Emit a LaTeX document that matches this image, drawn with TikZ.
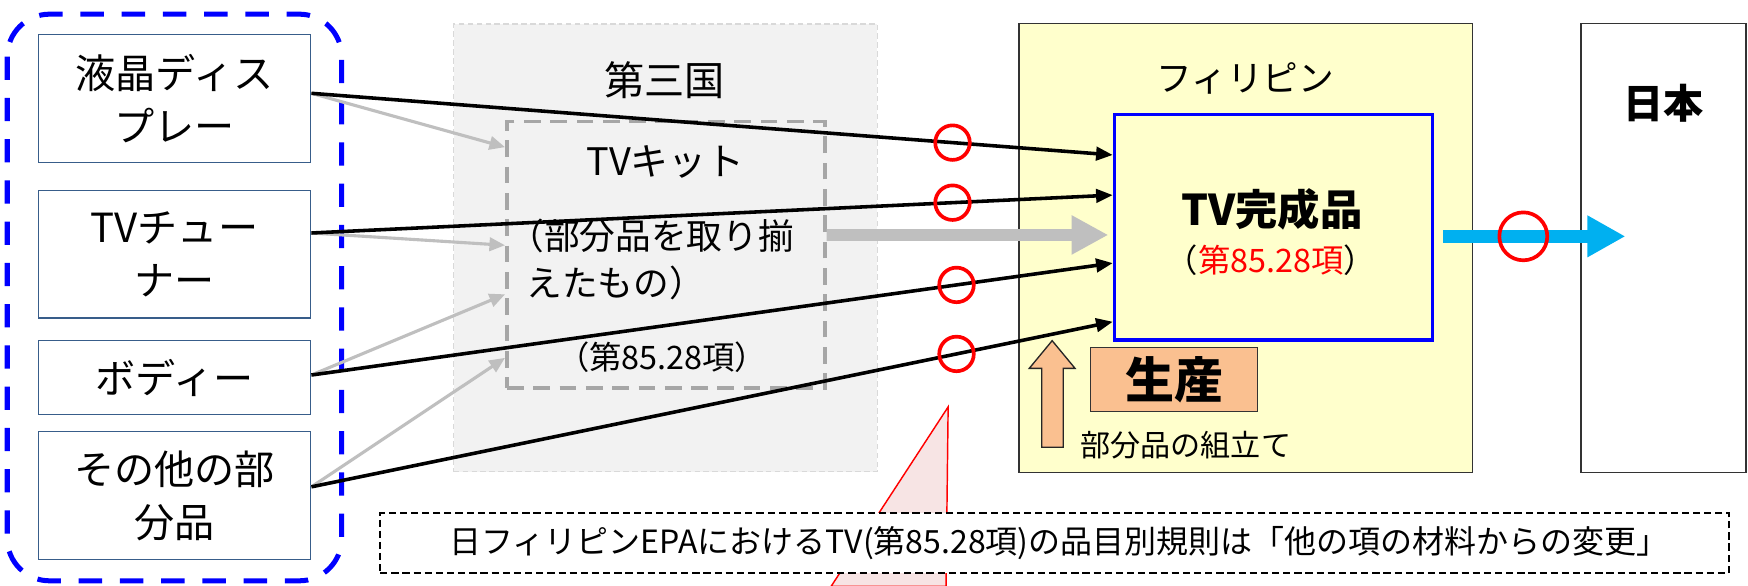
\documentclass[tikz,border=0pt]{standalone}
\usepackage{fontspec}
\setmainfont{Noto Sans CJK JP}
\usetikzlibrary{arrows.meta,calc}
\definecolor{boxblue}{RGB}{56,93,138}
\definecolor{kitgray}{RGB}{166,166,166}
\definecolor{arrgray}{RGB}{191,191,191}
\definecolor{yel}{HTML}{FFFFCC}
\definecolor{lgfill}{HTML}{F2F2F2}
\definecolor{lgline}{HTML}{D9D9D9}
\definecolor{cyanarr}{HTML}{00B0F0}
\definecolor{peach}{HTML}{FAC090}
\definecolor{pinkfill}{HTML}{F7E4E4}
\newcommand{\fs}[2]{\fontsize{#1}{#2}\selectfont}
\begin{document}
\begin{tikzpicture}[x=1pt,y=-1pt,
  part/.style={draw=boxblue, line width=1.2pt, fill=white, minimum width=244.5pt,
    align=center, inner sep=0pt, font=\fs{36}{47}},
  blk/.style={black, line width=3.2pt, -{Triangle[length=15pt,width=12pt]}},
  gry/.style={arrgray, line width=2.8pt, -{Triangle[length=14pt,width=12pt]}},
  redc/.style={circle, draw=red, line width=3.3pt, minimum size=31pt, inner sep=0pt},
  lbl/.style={inner sep=0pt},
]
\useasboundingbox (0,0) rectangle (1568,525);

% blue dashed group
\draw[blue, line width=4.5pt, dash pattern=on 21pt off 16pt, rounded corners=38pt]
  (6.5,12.7) rectangle (306.5,521);

% part boxes
\node[part, minimum height=115.2pt] (b1) at (156.5,88.4) {液晶ディス\\プレー};
\node[part, minimum height=114.5pt] (b2) at (156.5,228) {TVチュー\\ナー};
\node[part, minimum height=66.3pt] (b3) at (156.5,338.8) {ボディー};
\node[part, minimum height=114.7pt] (b4) at (156.5,444.7) {その他の部\\分品};

% third country
\node[draw=lgline, fill=lgfill, line width=1.2pt, dash pattern=on 5pt off 3pt,
  minimum width=380pt, minimum height=401.5pt, inner sep=0pt] (tc) at (597,222.25) {};
\node[lbl, font=\fs{36}{40}] (tclbl) at (596,72) {第三国};

% kit box
\node[draw=kitgray, line width=3.4pt, dash pattern=on 15pt off 8.6pt,
  minimum width=285pt, minimum height=239pt, inner sep=0pt] (kit) at (597.25,228.5) {};
\node[lbl, font=\fs{34}{40}] (kit1) at (597,145) {TVキット};
\node[lbl, font=\fs{32}{40}, anchor=west] (kit2) at (456,212) {（部分品を取り揃};
\node[lbl, font=\fs{32}{40}, anchor=west] (kit3) at (472,254) {えたもの）};
\node[lbl, font=\fs{29}{36}] (kit4) at (594,320) {（第85.28項）};

% Philippines
\node[draw=black!80, fill=yel, line width=1.3pt, minimum width=407pt,
  minimum height=403pt, inner sep=0pt] (ph) at (1117.5,222.5) {};
\node[lbl, font=\fs{32}{40}] (phlbl) at (1117,70) {フィリピン};

% Japan
\node[draw=black!80, fill=white, line width=1.3pt, minimum width=148pt,
  minimum height=403pt, inner sep=0pt] (jp) at (1492,222.5) {};
\node[lbl, font=\bfseries\fs{36}{40}] (jplbl) at (1492,92.7) {日本};

% TV finished product
\node[draw=blue, fill=yel, line width=3pt, minimum width=285.3pt,
  minimum height=202.5pt, inner sep=0pt] (tv) at (1142.35,203.75) {};
\node[lbl, font=\bfseries\fs{38}{44}] (tv1) at (1141,188) {TV完成品};
\node[lbl, font=\fs{29}{36}] (tv2) at (1140,233) {（{\color{red}第85.28項}）};

% production
\node[draw=black!80, fill=peach, line width=1.3pt, minimum width=149.8pt,
  minimum height=57.8pt, inner sep=0pt, font=\bfseries\fs{44}{50}] (prod) at (1053.3,340.4) {生産};
\draw[fill=peach, draw=black!85, line width=1.2pt]
  (934.4,401.2) -- (934.4,330.4) -- (923.3,330.4) -- (943.8,305.6) --
  (964.3,330.4) -- (953.8,330.4) -- (953.8,401.2) -- cycle;
\node[lbl, font=\fs{27}{32}, anchor=west] (asm) at (969,399) {部分品の組立て};

% gray arrows to kit
\draw[gry] ([yshift=4.7pt]b1.east) -- ([yshift=96.5pt]kit.west);
\draw[gry] ([yshift=19pt]b2.east) -- ([yshift=8.5pt]kit.west);
\draw[gry] ([yshift=2.4pt]b3.east) -- ([yshift=-35.5pt]kit.west);
\draw[gry] ([yshift=8pt]b4.east) -- ([yshift=-92.5pt]kit.west);

% black arrows to TV with circles
\draw[blk] ([yshift=4.7pt]b1.east) -- node[pos=0.80, redc] (c1) {} ([yshift=64.75pt]tv.west);
\draw[blk] ([yshift=19pt]b2.east) -- node[pos=0.80, redc] (c2) {} ([yshift=28.75pt]tv.west);
\draw[blk] ([yshift=2.4pt]b3.east) -- node[pos=0.805, redc] (c3) {} ([yshift=-32.25pt]tv.west);
\draw[blk] ([yshift=8pt]b4.east) -- node[pos=0.805, redc] (c4) {} ([yshift=-84.85pt]tv.west);

% big gray arrow
\draw[arrgray, line width=10.5pt, -{Triangle[length=33pt,width=33pt]}, shorten >=4pt]
  ([yshift=17.7pt]kit.east) -- ([yshift=-7pt]tv.west);

% cyan arrow
\coordinate (jptip) at (1458,212);
\draw[cyanarr, line width=12pt, -{Triangle[length=34pt,width=35pt]}]
  ([xshift=8pt,yshift=-8.25pt]tv.east) -- node[pos=0.44, redc, minimum size=43pt] (c5) {} (jptip);

% callout
\draw[red, fill=pinkfill, line width=1.3pt] (850.5,365) -- (848.6,526) -- (745.5,526) -- cycle;

% rule note
\node[draw=black, fill=white, line width=1.3pt, dash pattern=on 6.5pt off 3.5pt,
  minimum width=1210pt, minimum height=54pt, inner sep=0pt] (note) at (946,487) {};
\node[lbl, font=\fs{28.7}{34}] (notetxt) at (950,487) {日フィリピンEPAにおけるTV(第85.28項)の品目別規則は「他の項の材料からの変更」};
\end{tikzpicture}
\end{document}
